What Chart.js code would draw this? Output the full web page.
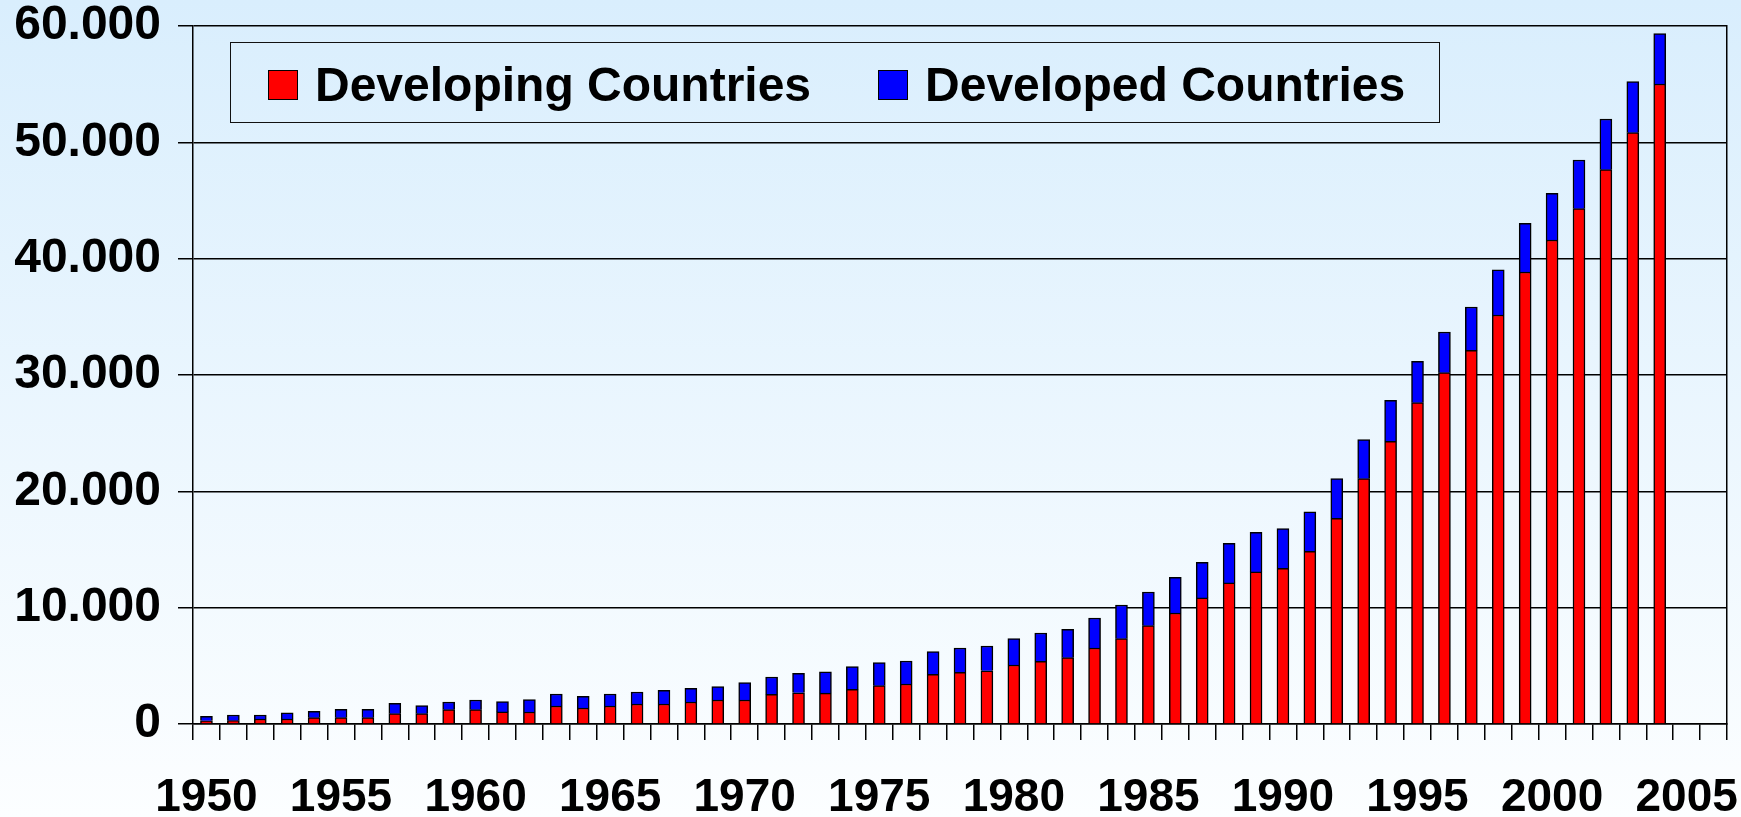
<!DOCTYPE html>
<html>
<head>
<meta charset="utf-8">
<title>Developing vs Developed Countries</title>
<script src="https://cdn.jsdelivr.net/npm/chart.js@4.4.1/dist/chart.umd.min.js"></script>
<style>
    html, body {
        margin: 0;
        padding: 0;
        width: 1741px;
        height: 817px;
        overflow: hidden;
        background: linear-gradient(to bottom, #d9eefd 0%, #fcfeff 100%);
        font-family: "Liberation Sans", Arial, sans-serif;
    }
    #wrap {
        position: relative;
        width: 1741px;
        height: 817px;
    }
    #chart {
        position: absolute;
        left: 0;
        top: 0;
    }
    #legend {
        position: absolute;
        left: 230px;
        top: 42px;
        width: 1210px;
        height: 81px;
        box-sizing: border-box;
        border: 1.5px solid #111;
        display: flex;
        align-items: center;
        padding-left: 37px;
        white-space: nowrap;
    }
    .legend-item {
        display: flex;
        align-items: center;
        flex-shrink: 0;
        margin-right: 67px;
        position: relative;
        top: 2px;
    }
    .legend-box {
        width: 30px;
        height: 30px;
        flex-shrink: 0;
        box-sizing: border-box;
        border: 1.5px solid #000;
        margin-right: 17px;
    }
    .legend-text {
        font-size: 48px;
        font-weight: bold;
        color: #000;
        line-height: 1;
    }
</style>
</head>
<body>
<div id="wrap">
    <canvas id="chart" width="1741" height="817"></canvas>
    <div id="legend"></div>
</div>
<script>
// categories (two trailing empty slots as in the original axis)
const years = [
    '1950', '1951', '1952', '1953', '1954', '1955', '1956', '1957', '1958', '1959',
    '1960', '1961', '1962', '1963', '1964', '1965', '1966', '1967', '1968', '1969',
    '1970', '1971', '1972', '1973', '1974', '1975', '1976', '1977', '1978', '1979',
    '1980', '1981', '1982', '1983', '1984', '1985', '1986', '1987', '1988', '1989',
    '1990', '1991', '1992', '1993', '1994', '1995', '1996', '1997', '1998', '1999',
    '2000', '2001', '2002', '2003', '2004', '2005', '2006'
];

const labeledYears = ['1950', '1955', '1960', '1965', '1970', '1975', '1980', '1985', '1990', '1995', '2000', '2005'];

const developing = [
    270, 290, 430, 430, 545, 545, 545, 885, 885, 1230,
    1230, 1040, 1030, 1550, 1375, 1550, 1720, 1720, 1890, 2065,
    2065, 2545, 2690, 2650, 2975, 3295, 3440, 4265, 4440, 4580,
    5070, 5385, 5700, 6535, 7335, 8450, 9545, 10835, 12125, 13070,
    13380, 14840, 17690, 21090, 24295, 27620, 30200, 32115, 35160, 38855,
    41605, 44295, 47650, 50830, 55015
];

const developed = [
    380, 485, 345, 540, 545, 720, 720, 895, 690, 660,
    835, 890, 1060, 1030, 1000, 1030, 1030, 1170, 1170, 1145,
    1485, 1495, 1660, 1830, 1955, 1975, 1975, 1950, 2095, 2125,
    2265, 2440, 2435, 2580, 2895, 2900, 3060, 3060, 3405, 3405,
    3415, 3390, 3400, 3350, 3525, 3550, 3500, 3730, 3890, 4175,
    4005, 4185, 4355, 4385, 4325
];

const yMin = 0;
const yMax = 60000;
const yStep = 10000;

const FONT = '"Liberation Sans", Arial, sans-serif';

const chart = new Chart(document.getElementById('chart'), {
    type: 'bar',
    data: {
        labels: years,
        datasets: [
            {
                label: 'Developing Countries',
                data: developing,
                backgroundColor: '#ff0000',
                borderColor: '#000',
                borderWidth: 1.5,
                barThickness: 12
            },
            {
                label: 'Developed Countries',
                data: developed,
                backgroundColor: '#0000ff',
                borderColor: '#000',
                borderWidth: 1.5,
                barThickness: 12
            }
        ]
    },
    options: {
        responsive: false,
        animation: false,
        layout: {
            padding: { top: 26, left: 14, right: 14, bottom: 0 }
        },
        plugins: {
            legend: { display: false },
            tooltip: { enabled: false }
        },
        scales: {
            x: {
                stacked: true,
                grid: {
                    offset: true,
                    drawOnChartArea: false,
                    drawTicks: true,
                    tickLength: 16,
                    color: '#000',
                    lineWidth: 1.5
                },
                border: { display: true, color: '#000', width: 1.5 },
                ticks: {
                    autoSkip: false,
                    maxRotation: 0,
                    minRotation: 0,
                    padding: 39,
                    color: '#000',
                    font: { family: FONT, size: 46, weight: 'bold', lineHeight: 0.82 },
                    callback: function (value, index) {
                        const y = years[index];
                        return labeledYears.includes(y) ? y : '';
                    }
                },
                // fixed band under the plot, no extra side padding for the labels
                afterFit: scale => {
                    scale.height = 93;
                    scale.paddingLeft = 0;
                    scale.paddingRight = 0;
                }
            },
            y: {
                stacked: true,
                min: yMin,
                max: yMax,
                grid: {
                    color: '#000',
                    lineWidth: 1.5,
                    tickLength: 15
                },
                border: { display: true, color: '#000', width: 1.5 },
                ticks: {
                    stepSize: yStep,
                    padding: 17,
                    color: '#000',
                    font: { family: FONT, size: 48, weight: 'bold', lineHeight: 1 },
                    callback: value => value.toLocaleString('de-DE')
                },
                afterFit: scale => {
                    scale.width = 179;
                    scale.paddingTop = 0;
                    scale.paddingBottom = 0;
                }
            },
            frame: {
                position: 'right',
                min: yMin,
                max: yMax,
                grid: { drawOnChartArea: false, drawTicks: false },
                border: { display: true, color: '#000', width: 1.5 },
                ticks: { display: false },
                afterFit: scale => {
                    scale.width = 0;
                    scale.paddingTop = 0;
                    scale.paddingBottom = 0;
                }
            }
        }
    }
});

// legend box drawn over the plot, built from the datasets
const legendEl = document.getElementById('legend');
chart.data.datasets.forEach(ds => {
    const item = document.createElement('div');
    item.className = 'legend-item';
    const box = document.createElement('span');
    box.className = 'legend-box';
    box.style.background = ds.backgroundColor;
    const text = document.createElement('span');
    text.className = 'legend-text';
    text.textContent = ds.label;
    item.appendChild(box);
    item.appendChild(text);
    legendEl.appendChild(item);
});
</script>
</body>
</html>
